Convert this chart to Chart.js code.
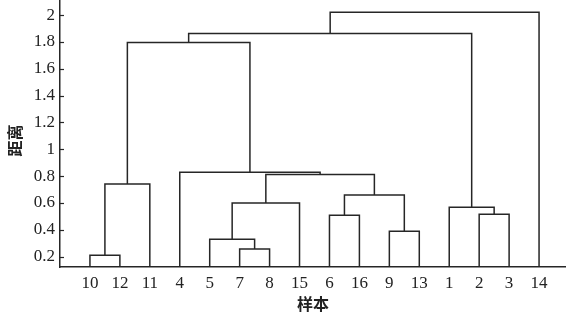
<!DOCTYPE html>
<html><head><meta charset="utf-8">
<script src="https://cdn.jsdelivr.net/npm/chart.js@4/dist/chart.umd.min.js"></script>
<style>html,body{margin:0;padding:0;background:#fff}#wrap{width:566px;height:315px;position:relative}</style>
</head><body><div id="wrap"><canvas id="c"></canvas></div>
<script>
// leaf order along the x axis
const leafLabels = ['10','12','11','4','5','7','8','15','6','16','9','13','1','2','3','14'];
// merges (children: leaf label or 'm<k>' = result of merge k)
const mergeLeft   = ['10','7','5','9','6','2','1','m2','m4','m0','m7','4','m9','m12','m13'];
const mergeRight  = ['12','8','m1','13','16','3','m5','15','m3','11','m8','m10','m11','m6','14'];
const mergeHeight = [0.21,0.257,0.33,0.39,0.508,0.516,0.568,0.60,0.66,0.741,0.813,0.829,1.796,1.863,2.02];
// y tick labels
const yTicks = [0.2,0.4,0.6,0.8,1,1.2,1.4,1.6,1.8,2];
const xTitle = '样本', yTitle = '距离';

const lineColor = '#262626';
const nodeX = {}, nodeY = {};
leafLabels.forEach((l,i)=>{ nodeX[l]=i; nodeY[l]=0; });
const datasets = [];
mergeHeight.forEach((h,k)=>{
  const a = mergeLeft[k], b = mergeRight[k];
  datasets.push({
    data:[{x:nodeX[a],y:nodeY[a]},{x:nodeX[a],y:h},{x:nodeX[b],y:h},{x:nodeX[b],y:nodeY[b]}],
    borderColor:lineColor, borderWidth:1.5, pointRadius:0, fill:false, tension:0
  });
  nodeX['m'+k] = (nodeX[a]+nodeX[b])/2; nodeY['m'+k] = h;
});

const cjk = "'Noto Sans CJK SC', sans-serif";
const extras = {
  id:'extras',
  afterDraw(chart){
    const ctx = chart.ctx, ys = chart.scales.y, ca = chart.chartArea;
    ctx.save(); ctx.strokeStyle = lineColor; ctx.lineWidth = 1.2;
    yTicks.forEach(v=>{
      const p = Math.round(ys.getPixelForValue(v))+0.5;
      ctx.beginPath(); ctx.moveTo(ca.left,p); ctx.lineTo(ca.left+4,p); ctx.stroke();
    });
    // y title
    ctx.translate(15, (ca.top+ca.bottom)/2 + 7);
    ctx.rotate(-Math.PI/2);
    ctx.fillStyle = '#222'; ctx.font = "bold 16px " + cjk;
    ctx.textAlign = 'center'; ctx.textBaseline = 'middle';
    ctx.fillText(yTitle, 0, 0);
    ctx.restore();
  }
};

const serif = "'Liberation Serif', 'DejaVu Serif', serif";
new Chart(document.getElementById('c'), {
  type:'line',
  data:{datasets},
  plugins:[extras],
  options:{
    responsive:true, maintainAspectRatio:false, animation:false,
    layout:{padding:0},
    plugins:{legend:{display:false}, tooltip:{enabled:false}},
    scales:{
      x:{type:'linear', min:-1, max:15.9,
        afterBuildTicks(s){ s.ticks = leafLabels.map((l,i)=>({value:i})); },
        afterFit(s){ s.height = 48; s.paddingLeft = 0; s.paddingRight = 0; },
        grid:{display:false, drawTicks:false},
        border:{display:true, color:lineColor, width:1.5},
        ticks:{autoSkip:false, maxRotation:0, padding:6, color:'#222',
          font:{family:serif, size:17},
          callback:(v)=>leafLabels[v]},
        title:{display:true, text:xTitle, color:'#222', padding:{top:0,bottom:1},
          font:{family:cjk, size:16, weight:'bold'}}
      },
      y:{type:'linear', min:0.123, max:2.112,
        afterBuildTicks(s){ s.ticks = yTicks.map(v=>({value:v})); },
        afterFit(s){ s.width = 60; s.paddingTop = 0; s.paddingBottom = 0; },
        grid:{display:false, drawTicks:false},
        border:{display:true, color:lineColor, width:1.5},
        ticks:{padding:5, color:'#222', font:{family:serif, size:17},
          callback:(v)=>String(v)}
      }
    }
  }
});
</script></body></html>
